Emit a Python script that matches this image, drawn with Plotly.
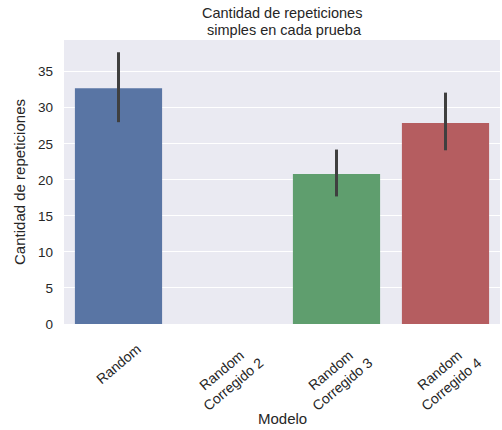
import plotly.graph_objects as go

# Mean number of simple repetitions per model, with 95% CI bounds
modelos = ["Random", "Random<br>Corregido 2", "Random<br>Corregido 3", "Random<br>Corregido 4"]
media = [32.7, 0.0, 20.8, 27.9]
ci_bajo = [28.0, None, 17.7, 24.1]
ci_alto = [37.7, None, 24.2, 32.1]
colores = ["#5975a4", "#cc8963", "#5f9e6e", "#b55d60"]
y_ticks = [0, 5, 10, 15, 20, 25, 30, 35]
titulo = ["Cantidad de repeticiones", " simples en cada prueba"]

err_plus = [None if h is None else h - m for h, m in zip(ci_alto, media)]
err_minus = [None if l is None else m - l for l, m in zip(ci_bajo, media)]

TEXT = "#262626"
FONT = "Liberation Sans, Arial, sans-serif"
W, H = 502, 430
M_L, M_R, M_T, M_B = 64, 2, 40, 106
plot_h = H - M_T - M_B

fig = go.Figure(
    go.Bar(
        x=modelos,
        y=media,
        width=0.8,
        marker=dict(color=colores, line=dict(width=0)),
        error_y=dict(
            type="data",
            symmetric=False,
            array=err_plus,
            arrayminus=err_minus,
            color="#3f3f3f",
            thickness=3,
            width=0,
        ),
    )
)

# Rotated category labels, centred under each bar
for m in modelos:
    fig.add_annotation(
        x=m, xref="x", y=0, yref="paper",
        text=m, showarrow=False, textangle=-40,
        xanchor="center", yanchor="top", yshift=-14,
        font=dict(size=14, color=TEXT), align="center",
    )

# X axis title
fig.add_annotation(
    x=0.5, xref="paper", y=-95 / plot_h, yref="paper",
    text="Modelo", showarrow=False, xanchor="center", yanchor="middle",
    font=dict(size=15, color=TEXT),
)

# Two-line title above the plot area
for linea, off in zip(titulo, [26.6, 9.8]):
    fig.add_annotation(
        x=0.5, xref="paper", y=1 + off / plot_h, yref="paper",
        text=linea, showarrow=False, xanchor="center", yanchor="middle",
        font=dict(size=14.5, color=TEXT),
    )

fig.update_layout(
    width=W,
    height=H,
    margin=dict(l=M_L, r=M_R, t=M_T, b=M_B),
    paper_bgcolor="white",
    plot_bgcolor="#eaeaf2",
    font=dict(family=FONT, size=13.5, color=TEXT),
    showlegend=False,
)
fig.update_xaxes(
    showticklabels=False,
    showgrid=False,
    ticks="",
)
fig.update_yaxes(
    title=dict(text="Cantidad de repeticiones", font=dict(size=15), standoff=8),
    range=[0, 39.4],
    tickvals=y_ticks,
    tickfont=dict(size=13.5),
    ticklabelstandoff=10,
    gridcolor="white",
    gridwidth=1,
    zeroline=False,
    ticks="",
)

fig.write_html("out.html")
